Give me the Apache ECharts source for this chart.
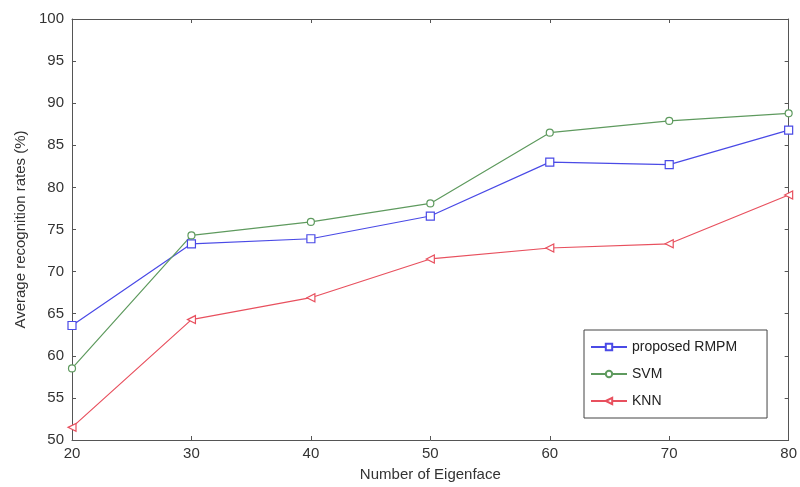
<!DOCTYPE html>
<html>
<head>
<meta charset="utf-8">
<script src="https://cdn.jsdelivr.net/npm/echarts@6/dist/echarts.min.js"></script>
<style>html,body{margin:0;padding:0;background:#fff}#c{width:800px;height:487px}</style>
</head>
<body>
<div id="c"></div>
<script>
const eigenfaces = [20, 30, 40, 50, 60, 70, 80];
const rmpm = [63.6, 73.3, 73.9, 76.6, 83.0, 82.7, 86.8];
const svm = [58.5, 74.3, 75.9, 78.1, 86.5, 87.9, 88.8];
const knn = [51.5, 64.3, 66.9, 71.5, 72.8, 73.3, 79.1];
const seriesNames = ['proposed RMPM', 'SVM', 'KNN'];

const pair = arr => eigenfaces.map((x, i) => [x, arr[i]]);
const font = 'Liberation Sans, Arial, Helvetica, sans-serif';
const axisCommon = {
  axisLine: {show: true, lineStyle: {color: '#555', width: 1}},
  axisTick: {show: true, inside: true, length: 4, lineStyle: {color: '#555'}},
  splitLine: {show: false}
};
const chart = echarts.init(document.getElementById('c'));
chart.setOption({
  animation: false,
  backgroundColor: '#fff',
  grid: {left: 72, right: 9, top: 19, bottom: 47, show: false},
  xAxis: [
    Object.assign({type: 'value', min: 20, max: 80, interval: 10, position: 'bottom',
      name: 'Number of Eigenface', nameLocation: 'middle', nameGap: 27,
      nameTextStyle: {fontFamily: font, fontSize: 15, color: '#333'},
      axisLabel: {fontFamily: font, fontSize: 15, color: '#333', margin: 6}}, axisCommon),
    Object.assign({type: 'value', min: 20, max: 80, interval: 10, position: 'top',
      axisLabel: {show: false}}, axisCommon)
  ],
  yAxis: [
    Object.assign({type: 'value', min: 50, max: 100, interval: 5, position: 'left',
      name: 'Average recognition rates (%)', nameLocation: 'middle', nameGap: 44,
      nameTextStyle: {fontFamily: font, fontSize: 15, color: '#333'},
      axisLabel: {fontFamily: font, fontSize: 15, color: '#333', margin: 8}}, axisCommon),
    Object.assign({type: 'value', min: 50, max: 100, interval: 5, position: 'right',
      axisLabel: {show: false}}, axisCommon)
  ],
  legend: {
    orient: 'vertical', left: 584, top: 330,
    padding: [10, 30, 10, 6], itemGap: 13,
    itemWidth: 36, itemHeight: 8,
    borderColor: '#444', borderWidth: 1, backgroundColor: '#fff',
    textStyle: {fontFamily: font, fontSize: 14, color: '#222'},
    data: seriesNames
  },
  series: [
    {name: seriesNames[0], type: 'line', data: pair(rmpm), symbol: 'rect', symbolSize: 8,
     color: '#4a4ae6', lineStyle: {width: 1.2, color: '#4a4ae6'},
     itemStyle: {color: '#fff', borderColor: '#4a4ae6', borderWidth: 1.2}},
    {name: seriesNames[1], type: 'line', data: pair(svm), symbol: 'circle', symbolSize: 7,
     color: '#5e9a5e', lineStyle: {width: 1.2, color: '#5e9a5e'},
     itemStyle: {color: '#fff', borderColor: '#5e9a5e', borderWidth: 1.2}},
    {name: seriesNames[2], type: 'line', data: pair(knn), symbol: 'triangle', symbolRotate: 90, symbolSize: 8,
     color: '#e8505e', lineStyle: {width: 1.2, color: '#e8505e'},
     itemStyle: {color: '#fff', borderColor: '#e8505e', borderWidth: 1.2}}
  ]
});
</script>
</body>
</html>
